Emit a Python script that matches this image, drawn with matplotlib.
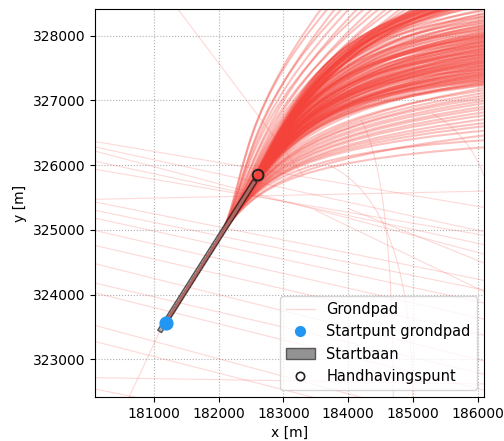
import matplotlib
matplotlib.use('Agg')
import numpy as np
import matplotlib.pyplot as plt
from matplotlib.path import Path
from matplotlib.patches import PathPatch, Polygon, Patch
from matplotlib.lines import Line2D

plt.rcParams['font.family'] = 'DejaVu Sans'
plt.rcParams['font.size'] = 10

# runway and reference points (m)
runway_begin = (181088, 323432)
runway_end = (182561, 325757)
runway_width = 70
start_point = (181180, 323560)
enforcement_point = (182610, 325845)
liftoff_distance = 1400

# ground tracks leaving through the right edge:
# end y, distance along the runway heading of the turn, sideways offset of the track
right_end_y = [326280, 326390, 326470, 326540, 326610, 326660, 326720, 326780, 326830, 326880,
               326920, 326970, 327010, 327050, 327090, 327130, 327170, 327210,
               327240, 327252, 327268, 327277, 327293, 327301, 327316, 327322, 327338, 327347,
               327361, 327368, 327382, 327391, 327399, 327412, 327418, 327433, 327441, 327452,
               327458, 327473, 327479, 327494, 327502, 327509, 327523, 327531, 327544, 327549,
               327563, 327568, 327584, 327591, 327597, 327612, 327618, 327633, 327639, 327652,
               327659, 327671, 327683, 327688, 327703, 327709, 327722, 327728, 327744, 327751,
               327758, 327772, 327779, 327793, 327798, 327812, 327819, 327833, 327838, 327851,
               327859, 327872, 327877, 327893, 327899, 327913, 327918, 327931, 327941, 327952,
               327958, 327973, 327979, 327991, 328003, 328009, 328022, 328031, 328043, 328052,
               328066, 328081, 328093, 328112, 328124, 328141, 328153, 328172, 328184, 328203,
               328221, 328238, 328262, 328279, 328301, 328318, 328347, 328366, 328396,
               328430, 328470, 328520, 328580, 328650]
right_turn = [3000, 3100, 3050, 3200, 3150, 3300, 3250, 3350, 3300, 3450,
              3400, 3500, 3450, 3600, 3550, 3650, 3700, 3650,
              3900, 4000, 3850, 3950, 4050, 3900, 4000, 3950, 4100, 3900,
              4050, 3950, 4100, 4000, 3950, 4150, 4050, 4000, 4150, 3950,
              4100, 4050, 4200, 4000, 4150, 4100, 4050, 4200, 4100, 4250,
              4050, 4200, 4150, 4100, 4250, 4150, 4200, 4050, 4300, 4200,
              4150, 4300, 4200, 4250, 4150, 4350, 4250, 4200, 4300, 4250,
              4350, 4200, 4300, 4400, 4250, 4350, 4300, 4400, 4250, 4450,
              4350, 4300, 4450, 4400, 4350, 4500, 4400, 4300, 4450, 4500,
              4400, 4550, 4450, 4500, 4400, 4550, 4500, 4600, 4450, 4550,
              4600, 4500, 4650, 4550, 4600, 4700, 4550, 4650, 4600, 4700,
              4650, 4750, 4600, 4700, 4800, 4650, 4750, 4700, 4800,
              4700, 4800, 4750, 4850, 4800]
right_offset = [40, 0, 60, 20, -20, 50, 10, 30, -10, 40,
                0, 20, -30, 10, -20, 0, -40, -10,
                -60, 0, -110, -30, -80, 10, -140, -50, -20, -100,
                -70, -130, -30, -90, -160, -40, -110, 0, -80, -150,
                -50, -120, -180, -70, -20, -140, -100, -60, -170, -110,
                -40, -150, -90, -200, -130, -70, -180, -110, -30, -160,
                -120, -60, -190, -140, -90, -220, -100, -170, -50, -130,
                -200, -110, -160, -70, -230, -140, -90, -190, -150, -250,
                -120, -180, -80, -210, -160, -260, -130, -190, -100, -230,
                -170, -240, -140, -200, -280, -150, -220, -110, -260, -180,
                -230, -160, -290, -200, -250, -140, -310, -210, -180, -270,
                -220, -300, -190, -260, -330, -240, -280, -200, -320,
                -260, -340, -230, -300, -280]

# ground tracks leaving through the top edge: end x, turn distance, sideways offset
top_end_x = [183650, 183760, 183870, 183990, 184100, 184230, 184350, 184470, 184590, 184700,
             184820, 184930, 185040, 185140,
             185230, 185262, 185287, 185318, 185341, 185372, 185396, 185425, 185452, 185478,
             185509, 185533, 185561, 185590, 185614, 185643, 185671, 185697, 185726, 185752,
             185781, 185808, 185836, 185862, 185893, 185921, 185950, 185982, 186015, 186060]
top_turn = [3000, 3100, 3050, 3200, 3150, 3300, 3250, 3400, 3350, 3500,
            3600, 3550, 3700, 3800,
            4400, 4500, 4450, 4600, 4500, 4650, 4550, 4700, 4600, 4750,
            4650, 4800, 4700, 4850, 4750, 4650, 4800, 4900, 4750, 4850,
            4700, 4900, 4800, 4950, 4850, 4750, 4900, 4800, 4950, 4900]
top_offset = [-380, -420, -340, -400, -360, -310, -380, -290, -350, -270,
              -320, -250, -300, -260,
              -220, -300, -180, -260, -330, -200, -280, -150, -240, -310,
              -190, -270, -120, -230, -290, -170, -250, -320, -210, -140,
              -280, -190, -260, -300, -160, -230, -270, -200, -250, -180]

# other ground tracks crossing the area: x0, y0, x1, y1
other_lines = [
    (180000, 326380, 186200, 325330),
    (180000, 326300, 186200, 324950),
    (180000, 326240, 186200, 324600),
    (180000, 326080, 186200, 324750),
    (180000, 325950, 186200, 324900),
    (180000, 325470, 186200, 325600),
    (180000, 325450, 186200, 324200),
    (180000, 325320, 186200, 324050),
    (180000, 325200, 186200, 323850),
    (180000, 325010, 186200, 323600),
    (180000, 324780, 186200, 323350),
    (180000, 324500, 186200, 322950),
    (180000, 324200, 186200, 322750),
    (180000, 324050, 186200, 322500),
    (180000, 323550, 185000, 322200),
    (180000, 323300, 184300, 322200),
    (180000, 322720, 186200, 322620),
    (180000, 322560, 181800, 322200),
    (181340, 328450, 183300, 325850),
    (180560, 322300, 181100, 323450),
    (184000, 325330, 186200, 324450),
    (183500, 325300, 186200, 324000),
]
# other curved ground tracks: x0, y0, cx, cy, x1, y1
other_curves = [
    (184200, 326700, 184700, 325800, 184700, 322300),
    (183700, 326000, 185000, 325400, 185000, 322300),
    (185300, 326800, 186000, 326400, 186200, 325500),
]

track_color = '#f4433a'
track_alpha = 0.33

fig = plt.figure(figsize=(5.04, 4.41), dpi=100)
ax = fig.add_axes([95 / 504, 44 / 441, 389 / 504, 388 / 441])

# runway heading
heading = np.subtract(runway_end, runway_begin).astype(float)
heading /= np.hypot(*heading)
normal = np.array([heading[1], -heading[0]])
p0 = np.array(start_point, dtype=float)
liftoff = p0 + heading * liftoff_distance


def add_track(end, turn, offset):
    # straight along the runway, then a smooth cubic curve towards the end point
    p1 = p0 + heading * turn * 0.8
    p2 = p0 + heading * turn + normal * offset * 2
    verts = [p0, liftoff, p1, p2, end]
    codes = [Path.MOVETO, Path.LINETO, Path.CURVE4, Path.CURVE4, Path.CURVE4]
    ax.add_patch(PathPatch(Path(verts, codes), facecolor='none', edgecolor=track_color,
                           alpha=track_alpha, lw=1.5, zorder=2))


for x0, y0, x1, y1 in other_lines:
    ax.plot([x0, x1], [y0, y1], color=track_color, alpha=0.2, lw=0.8, zorder=2)
for x0, y0, cx, cy, x1, y1 in other_curves:
    path = Path([(x0, y0), (cx, cy), (x1, y1)], [Path.MOVETO, Path.CURVE3, Path.CURVE3])
    ax.add_patch(PathPatch(path, facecolor='none', edgecolor=track_color, alpha=0.2, lw=0.8,
                           zorder=2))

for y, turn, off in zip(right_end_y, right_turn, right_offset):
    add_track(np.array([186200.0, y]), turn, off)
for x, turn, off in zip(top_end_x, top_turn, top_offset):
    add_track(np.array([x, 328500.0]), turn, off)

# runway on top of the tracks
b = np.array(runway_begin, dtype=float)
e = np.array(runway_end, dtype=float)
half = normal * runway_width / 2
corners = [b + half, e + half, e - half, b - half]
ax.add_patch(Polygon(corners, closed=True, facecolor='grey', edgecolor='black',
                     alpha=0.6, lw=1.0, zorder=3))

ax.scatter([start_point[0]], [start_point[1]], s=85, color='#2196f3', zorder=4)
ax.scatter([enforcement_point[0]], [enforcement_point[1]], s=60, facecolor='none',
           edgecolor='#222222', lw=1.4, zorder=5)

ax.set_xlim(180090, 186100)
ax.set_ylim(322420, 328410)
ax.set_xticks([181000, 182000, 183000, 184000, 185000, 186000])
ax.set_yticks([323000, 324000, 325000, 326000, 327000, 328000])
ax.ticklabel_format(useOffset=False, style='plain')
ax.grid(True, linestyle=':', color='#b0b0b0', lw=0.8)
ax.set_xlabel('x [m]')
ax.set_ylabel('y [m]')

handles = [
    Line2D([], [], color=track_color, alpha=0.2, lw=1.0),
    Line2D([], [], color='#2196f3', marker='o', lw=0, markersize=7),
    Patch(facecolor='grey', edgecolor='#444444', alpha=0.85),
    Line2D([], [], color='#222222', marker='o', markerfacecolor='none', lw=0, markersize=6,
           markeredgewidth=1.2),
]
labels = ['Grondpad', 'Startpunt grondpad', 'Startbaan', 'Handhavingspunt']
ax.legend(handles, labels, loc='lower right', fontsize=10.5)

fig.savefig('out.png', dpi=100)
